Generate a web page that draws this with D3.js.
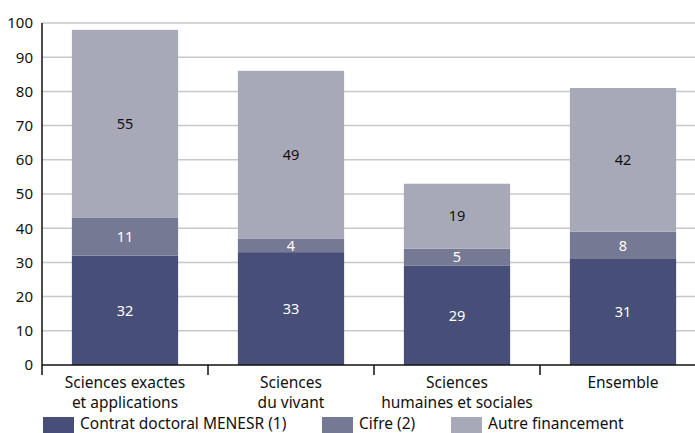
<!DOCTYPE html>
<html>
<head>
<meta charset="utf-8">
<script src="https://cdn.jsdelivr.net/npm/d3@7"></script>
<style>
    body { margin: 0; background: #fff; overflow: hidden; }
    svg { display: block; font-family: "Noto Sans", "Open Sans", sans-serif; }
</style>
</head>
<body>
<div id="chart"></div>
<script>
const categories = [["Sciences exactes", "et applications"], ["Sciences", "du vivant"], ["Sciences", "humaines et sociales"], ["Ensemble"]];
const seriesNames = ["Contrat doctoral MENESR (1)", "Cifre (2)", "Autre financement"];
const contrat = [32, 33, 29, 31];
const cifre = [11, 4, 5, 8];
const autre = [55, 49, 19, 42];
const yTicks = [0, 10, 20, 30, 40, 50, 60, 70, 80, 90, 100];

const colors = ["#474f79", "#757994", "#a7a9b8"];
const labelColors = ["#fff", "#fff", "#111"];

const W = 695, H = 433;
const plotLeft = 42, plotTop = 23, plotBottom = 365;

const svg = d3.select("#chart").append("svg")
    .attr("width", W)
    .attr("height", H);

const x = d3.scaleBand()
    .domain(d3.range(categories.length))
    .range([plotLeft, plotLeft + 166 * categories.length]);

const y = d3.scaleLinear()
    .domain([0, 100])
    .range([plotBottom, plotTop]);

// Grid lines
svg.append("g")
    .selectAll("line")
    .data(yTicks.filter(d => d > 0))
    .enter()
    .append("line")
    .attr("x1", plotLeft)
    .attr("x2", W)
    .attr("y1", d => y(d))
    .attr("y2", d => y(d))
    .attr("stroke", "#c8c8c8")
    .attr("stroke-width", 1.5);

// Stack the series
const rows = categories.map((c, i) => ({ i, s0: contrat[i], s1: cifre[i], s2: autre[i] }));
const stack = d3.stack().keys(["s0", "s1", "s2"])(rows);

const barW = x.bandwidth() * 0.64;

stack.forEach((layer, k) => {
    const g = svg.append("g");
    g.selectAll("rect")
        .data(layer)
        .enter()
        .append("rect")
        .attr("x", d => x(d.data.i) + (x.bandwidth() - barW) / 2)
        .attr("y", d => y(d[1]))
        .attr("width", barW)
        .attr("height", d => y(d[0]) - y(d[1]))
        .attr("fill", colors[k]);

    g.selectAll("text")
        .data(layer)
        .enter()
        .append("text")
        .attr("x", d => x(d.data.i) + x.bandwidth() / 2)
        .attr("y", d => y((d[0] + d[1]) / 2))
        .attr("dy", "0.36em")
        .attr("text-anchor", "middle")
        .attr("font-size", "14.5px")
        .attr("fill", labelColors[k])
        .text(d => d[1] - d[0]);
});

// Y axis
const yAxis = svg.append("g")
    .attr("transform", `translate(${plotLeft},0)`)
    .call(d3.axisLeft(y).tickValues(yTicks).tickSize(0).tickPadding(9));
yAxis.select(".domain").remove();
yAxis.selectAll("text")
    .attr("font-size", "15px")
    .attr("font-family", "Noto Sans, sans-serif")
    .attr("fill", "#111");

svg.append("line")
    .attr("x1", plotLeft).attr("x2", plotLeft)
    .attr("y1", plotTop).attr("y2", plotBottom + 10)
    .attr("stroke", "#111")
    .attr("stroke-width", 1.5);

// X axis
svg.append("line")
    .attr("x1", plotLeft).attr("x2", W)
    .attr("y1", plotBottom).attr("y2", plotBottom)
    .attr("stroke", "#111")
    .attr("stroke-width", 1.5);

svg.append("g")
    .selectAll("line")
    .data(d3.range(1, categories.length))
    .enter()
    .append("line")
    .attr("x1", d => x(d))
    .attr("x2", d => x(d))
    .attr("y1", plotBottom)
    .attr("y2", plotBottom + 10)
    .attr("stroke", "#111")
    .attr("stroke-width", 1.5);

const xl = svg.append("g")
    .selectAll("text")
    .data(categories)
    .enter()
    .append("text")
    .attr("x", (d, i) => x(i) + x.bandwidth() / 2)
    .attr("y", 388)
    .attr("text-anchor", "middle")
    .attr("font-size", "15.5px")
    .attr("fill", "#111");
xl.selectAll("tspan")
    .data(d => d)
    .enter()
    .append("tspan")
    .attr("x", function() { return this.parentNode.getAttribute("x"); })
    .attr("dy", (d, j) => j === 0 ? 0 : 20)
    .text(d => d);

// Legend
const legendX = [43, 322, 451];
const legend = svg.append("g")
    .selectAll("g")
    .data(seriesNames)
    .enter()
    .append("g")
    .attr("transform", (d, i) => `translate(${legendX[i]},417)`);

legend.append("rect")
    .attr("width", 31)
    .attr("height", 16)
    .attr("fill", (d, i) => colors[i]);

legend.append("text")
    .attr("x", 37)
    .attr("y", 12)
    .attr("font-size", "15.5px")
    .attr("fill", "#111")
    .text(d => d);
</script>
</body>
</html>
